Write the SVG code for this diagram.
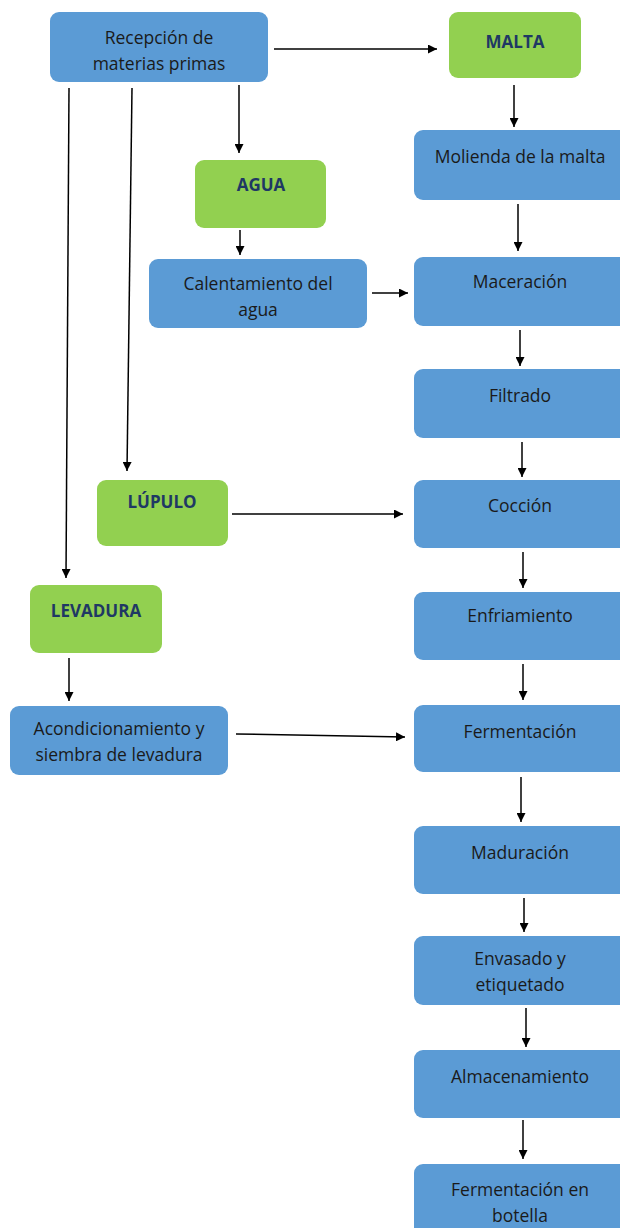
<svg xmlns="http://www.w3.org/2000/svg" width="620" height="1228" viewBox="0 0 620 1228">
<style>
.b{fill:#5B9BD5}
.g{fill:#92D050}
.t{font-family:"Open Sans","Liberation Sans",sans-serif;font-size:17.5px;fill:#1a1a1a;text-anchor:middle}
.tg{font-family:"Open Sans","Liberation Sans",sans-serif;font-size:17px;font-weight:bold;fill:#1F3864;text-anchor:middle}
.c{stroke:#000;stroke-width:1.5;fill:none;marker-end:url(#ah)}
</style>
<defs>
<marker id="ah" viewBox="0 0 10 10" refX="10" refY="5" markerWidth="6" markerHeight="6" orient="auto" markerUnits="strokeWidth">
<path d="M0,0 L10,5 L0,10 z" fill="#000"/>
</marker>
</defs>
<rect width="620" height="1228" fill="#fff"/>
<g id="connectors">
<line class="c" x1="274" y1="49" x2="437" y2="49"/>
<line class="c" x1="514" y1="85" x2="514" y2="127"/>
<line class="c" x1="518" y1="204" x2="518" y2="251"/>
<line class="c" x1="239" y1="85" x2="239" y2="153"/>
<line class="c" x1="240" y1="230" x2="240" y2="255"/>
<line class="c" x1="372" y1="293" x2="408" y2="293"/>
<line class="c" x1="520" y1="330" x2="520" y2="366"/>
<line class="c" x1="522" y1="442" x2="522" y2="477"/>
<line class="c" x1="132" y1="88" x2="127" y2="471"/>
<line class="c" x1="232" y1="514" x2="403" y2="514"/>
<line class="c" x1="523" y1="552" x2="523" y2="588"/>
<line class="c" x1="69" y1="88" x2="66" y2="578"/>
<line class="c" x1="69" y1="658" x2="69" y2="701"/>
<line class="c" x1="236" y1="734" x2="405" y2="737"/>
<line class="c" x1="523" y1="664" x2="523" y2="700"/>
<line class="c" x1="521" y1="777" x2="521" y2="822"/>
<line class="c" x1="524" y1="898" x2="524" y2="932"/>
<line class="c" x1="526" y1="1008" x2="526" y2="1047"/>
<line class="c" x1="523" y1="1120" x2="523" y2="1159"/>
</g>
<g id="recepcion"><rect class="b" x="50" y="12" width="218" height="70" rx="9"/><text class="t" x="159" y="43.5">Recepción de</text><text class="t" x="159" y="69.5">materias primas</text></g>
<g id="malta"><rect class="g" x="449" y="12" width="132" height="66" rx="9"/><text class="tg" x="515" y="48">MALTA</text></g>
<g id="molienda"><rect class="b" x="414" y="130" width="216" height="70" rx="9"/><text class="t" x="520" y="162.5">Molienda de la malta</text></g>
<g id="agua"><rect class="g" x="195" y="160" width="131" height="68" rx="9"/><text class="tg" x="261" y="191">AGUA</text></g>
<g id="calentamiento"><rect class="b" x="149" y="259" width="218" height="69" rx="9"/><text class="t" x="258" y="289.5">Calentamiento del</text><text class="t" x="258" y="315.5">agua</text></g>
<g id="maceracion"><rect class="b" x="414" y="257" width="216" height="69" rx="9"/><text class="t" x="520" y="287.5">Maceración</text></g>
<g id="filtrado"><rect class="b" x="414" y="369" width="216" height="69" rx="9"/><text class="t" x="520" y="401.5">Filtrado</text></g>
<g id="coccion"><rect class="b" x="414" y="480" width="216" height="68" rx="9"/><text class="t" x="520" y="511.5">Cocción</text></g>
<g id="lupulo"><rect class="g" x="97" y="480" width="131" height="66" rx="9"/><text class="tg" x="162" y="508">LÚPULO</text></g>
<g id="enfriamiento"><rect class="b" x="414" y="592" width="216" height="68" rx="9"/><text class="t" x="520" y="621.5">Enfriamiento</text></g>
<g id="levadura"><rect class="g" x="30" y="585" width="132" height="68" rx="9"/><text class="tg" x="96" y="617">LEVADURA</text></g>
<g id="acondicionamiento"><rect class="b" x="10" y="706" width="218" height="69" rx="9"/><text class="t" x="119" y="734.5">Acondicionamiento y</text><text class="t" x="119" y="760.5">siembra de levadura</text></g>
<g id="fermentacion"><rect class="b" x="414" y="705" width="216" height="67" rx="9"/><text class="t" x="520" y="737.5">Fermentación</text></g>
<g id="maduracion"><rect class="b" x="414" y="826" width="216" height="68" rx="9"/><text class="t" x="520" y="858.5">Maduración</text></g>
<g id="envasado"><rect class="b" x="414" y="936" width="216" height="69" rx="9"/><text class="t" x="520" y="964.5">Envasado y</text><text class="t" x="520" y="990.5">etiquetado</text></g>
<g id="almacenamiento"><rect class="b" x="414" y="1050" width="216" height="68" rx="9"/><text class="t" x="520" y="1082.5">Almacenamiento</text></g>
<g id="fermentacion_botella"><rect class="b" x="414" y="1164" width="216" height="80" rx="9"/><text class="t" x="520" y="1195.5">Fermentación en</text><text class="t" x="520" y="1221.5">botella</text></g>
</svg>
